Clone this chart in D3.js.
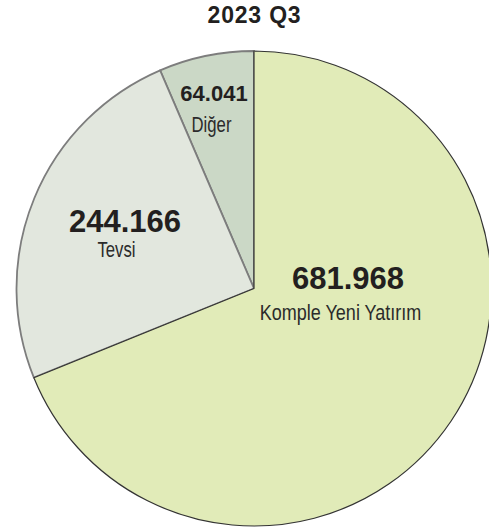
<!DOCTYPE html>
<html>
<head>
<meta charset="utf-8">
<script src="https://cdn.jsdelivr.net/npm/d3@7"></script>
<style>
  body { margin: 0; background: #fff; }
</style>
</head>
<body>
<div id="pie"></div>
<script>
// Chart data
const title = "2023 Q3";
const categories = ["Komple Yeni Yatırım", "Tevsi", "Diğer"];
const values = [681968, 244166, 64041];
const valueLabels = ["681.968", "244.166", "64.041"];

// Styling (kept apart from the data)
const colors = ["#e1ebb8", "#e2e7de", "#cbd8c6"];
const strokes = ["#333333", "#7d7d7d", "#7d7d7d"];
// label spots, relative to the pie centre: number baseline and name baseline
const numberPos = [[94, 0], [-129, -57], [-40, -188]];
const namePos = [[86.5, 31.5], [-137.5, -32], [-42.5, -157]];
const nameScale = [0.82, 0.76, 0.76];

const width = 489, height = 529;
const cx = 254, cy = 288.5, radius = 237.5;

const svg = d3.select("#pie")
    .append("svg")
    .attr("width", width)
    .attr("height", height);

// Title
svg.append("text")
    .attr("x", 254.5)
    .attr("y", 22.7)
    .attr("text-anchor", "middle")
    .style("font-family", "'Liberation Sans', Arial, sans-serif")
    .style("font-size", "23px")
    .style("font-weight", "bold")
    .style("letter-spacing", "0.8px")
    .style("fill", "#231f20")
    .text(title);

const data = categories.map((c, i) => ({ name: c, value: values[i], label: valueLabels[i], i: i }));

const pie = d3.pie()
    .value(d => d.value)
    .sort(null);

const arc = d3.arc()
    .innerRadius(0)
    .outerRadius(radius);

const g = svg.append("g")
    .attr("transform", `translate(${cx},${cy})`);

// Draw slices in reverse so the big one sits on top with its dark edge
g.selectAll("path")
    .data(pie(data).reverse())
    .enter()
    .append("path")
    .attr("d", arc)
    .attr("fill", d => colors[d.data.i])
    .attr("stroke", d => strokes[d.data.i])
    .attr("stroke-width", d => d.data.i === 0 ? 1.2 : 1.8)
    .attr("stroke-linejoin", "round");

// Value labels
g.selectAll(".num")
    .data(data)
    .enter()
    .append("text")
    .attr("class", "num")
    .attr("x", d => numberPos[d.i][0])
    .attr("y", d => numberPos[d.i][1])
    .attr("text-anchor", "middle")
    .style("font-family", "'Liberation Sans', Arial, sans-serif")
    .style("font-weight", "bold")
    .style("font-size", d => d.i === 2 ? "22px" : "31px")
    .style("fill", "#231f20")
    .text(d => d.label);

// Category names (condensed look)
g.selectAll(".name")
    .data(data)
    .enter()
    .append("text")
    .attr("class", "name")
    .attr("transform", d => `translate(${namePos[d.i][0]},${namePos[d.i][1]}) scale(${nameScale[d.i]},1)`)
    .attr("text-anchor", "middle")
    .style("font-family", "'Liberation Sans', Arial, sans-serif")
    .style("font-size", "22px")
    .style("fill", "#2b2b2b")
    .text(d => d.name);
</script>
</body>
</html>
